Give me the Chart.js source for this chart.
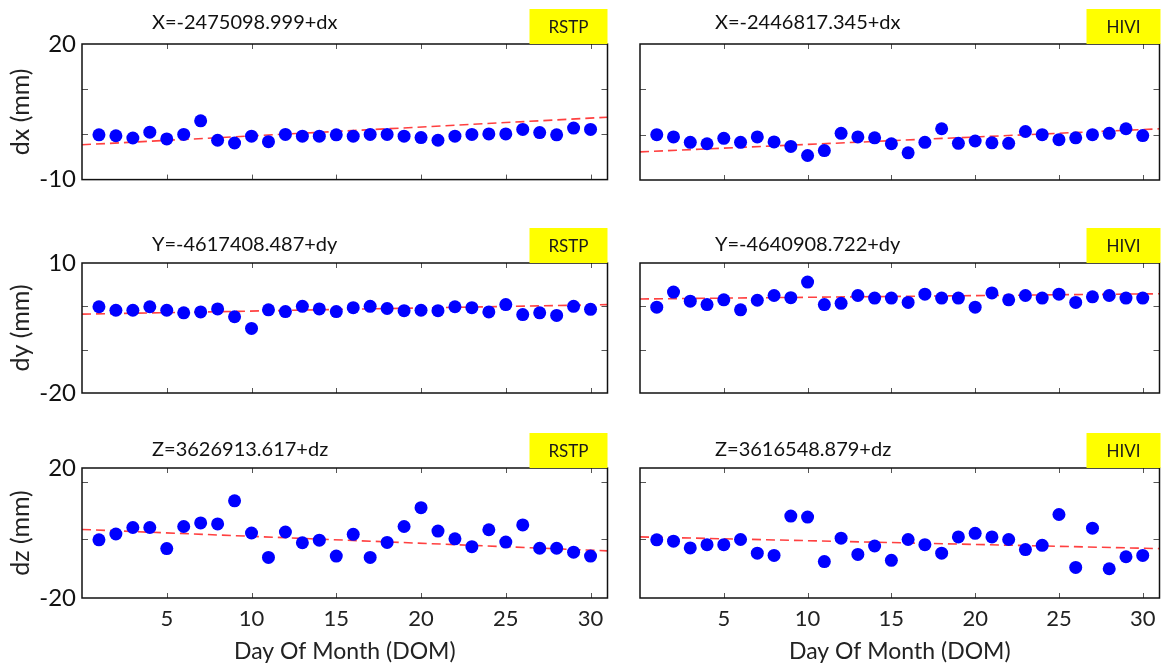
<!DOCTYPE html>
<html><head><meta charset="utf-8">
<script src="https://cdn.jsdelivr.net/npm/chart.js@4.4.0/dist/chart.umd.min.js"></script>
<style>
body{margin:0;background:#fff;}
#wrap{position:relative;width:1166px;height:667px;overflow:hidden;background:#fff;}
canvas{position:absolute;}
</style></head><body><div id="wrap"></div>
<script>
// ---------------- data ----------------
const days = [1,2,3,4,5,6,7,8,9,10,11,12,13,14,15,16,17,18,19,20,21,22,23,24,25,26,27,28,29,30];
const xTickValues = [5,10,15,20,25,30];
const trendX = [0,31];

const rstpDx = [-0.1,-0.3,-0.8,0.5,-1.0,0.0,3.0,-1.3,-1.9,-0.4,-1.6,0.0,-0.4,-0.4,-0.1,-0.4,0.0,0.0,-0.4,-0.7,-1.3,-0.4,0.0,0.1,0.1,1.1,0.4,-0.1,1.4,1.1];
const hiviDx = [0.0,-0.5,-1.7,-2.0,-0.8,-1.7,-0.5,-1.6,-2.6,-4.6,-3.5,0.3,-0.5,-0.7,-2.0,-4.0,-1.7,1.3,-1.9,-1.4,-1.8,-1.9,0.7,0.0,-1.1,-0.7,0.0,0.3,1.3,-0.2];
const rstpDy = [-0.1,-0.9,-0.9,-0.1,-0.9,-1.5,-1.3,-0.6,-2.4,-5.1,-0.8,-1.2,0.0,-0.6,-1.2,-0.3,0.0,-0.5,-1.0,-0.9,-1.0,-0.1,-0.3,-1.3,0.4,-1.9,-1.5,-2.1,0.0,-0.7];
const hiviDy = [-0.2,3.3,1.2,0.4,1.5,-0.8,1.4,2.5,2.0,5.6,0.4,0.7,2.5,1.9,1.9,0.9,2.8,1.9,1.9,-0.2,3.1,1.5,2.5,1.9,2.8,0.9,2.2,2.5,1.9,1.9];
const rstpDz = [-2.1,-0.3,1.7,1.7,-4.8,2.0,3.1,2.8,9.9,0.0,-7.5,0.3,-3.0,-2.2,-7.1,-0.4,-7.5,-2.9,2.0,7.8,0.6,-1.8,-4.2,1.0,-2.8,2.5,-4.7,-4.7,-5.9,-7.1];
const hiviDz = [-2.1,-2.5,-4.6,-3.6,-3.6,-2.0,-6.2,-6.9,5.2,4.9,-8.8,-1.6,-6.6,-4.0,-8.4,-2.0,-3.6,-6.2,-1.2,-0.1,-1.2,-2.0,-5.1,-3.8,5.7,-10.6,1.5,-11.0,-7.3,-6.9];

const rstpDxTrend = [-2.3,3.8];
const hiviDxTrend = [-3.8,1.3];
const rstpDyTrend = [-1.8,0.4];
const hiviDyTrend = [1.7,2.9];
const rstpDzTrend = [1.1,-5.5];
const hiviDzTrend = [-1.2,-4.8];

const dxRange = [-10,20];
const dyRange = [-20,10];
const dzRange = [-20,20];
const dxTickMarks = [0,10];
const dyTickMarks = [-10,0];
const dzTickMarks = [15.6,-1.7];

const titles = {
  rstpX:'X=-2475098.999+dx', hiviX:'X=-2446817.345+dx',
  rstpY:'Y=-4617408.487+dy', hiviY:'Y=-4640908.722+dy',
  rstpZ:'Z=3626913.617+dz',  hiviZ:'Z=3616548.879+dz'
};
const yAxisTitles = ['dx (mm)','dy (mm)','dz (mm)'];
const xAxisTitle = 'Day Of Month (DOM)';

// ---------------- drawing ----------------
const FONT = 'Lato, "Open Sans", sans-serif';
const wrap = document.getElementById('wrap');

const framePlugin = {
  id:'frame',
  afterDatasetsDraw(chart, args, o){
    const {ctx, chartArea:a, scales} = chart;
    ctx.save();
    ctx.strokeStyle = '#555'; ctx.lineWidth = 1;
    const L=(x1,y1,x2,y2)=>{ctx.beginPath();ctx.moveTo(x1,y1);ctx.lineTo(x2,y2);ctx.stroke();};
    for(const v of o.xMarks){const p=Math.round(scales.x.getPixelForValue(v))+0.5;L(p,a.top,p,a.top+5);L(p,a.bottom,p,a.bottom-5);}
    for(const v of o.yMarks){const p=Math.round(scales.y.getPixelForValue(v))+0.5;L(a.left,p,a.left+6,p);L(a.right,p,a.right-6,p);}
    ctx.strokeStyle = '#111'; ctx.lineWidth = 1.5;
    ctx.strokeRect(a.left, a.top, a.right-a.left, a.bottom-a.top);
    ctx.restore();
  },
  afterDraw(chart, args, o){
    const {ctx, chartArea:a} = chart;
    ctx.save();
    ctx.fillStyle = '#ffff00';
    const bx = a.right + o.badgeDx - o.badgeW;
    ctx.fillRect(bx, a.top - o.badgeH, o.badgeW, o.badgeH);
    ctx.fillStyle = '#1a1a1a';
    ctx.font = '17px ' + FONT;
    ctx.textAlign='center'; ctx.textBaseline='middle';
    ctx.fillText(o.badge, bx + o.badgeW/2, a.top - o.badgeH/2 + 1);
    ctx.fillStyle = '#111';
    ctx.font = '20px ' + FONT;
    ctx.textAlign='left';
    ctx.fillText(o.title, a.left + o.titleDx, a.top + o.titleDy);
    ctx.restore();
  }
};

function makePanel(p){
  const c = document.createElement('canvas');
  c.width = p.w; c.height = p.h;
  c.style.left = p.left+'px'; c.style.top = p.top+'px';
  c.style.width = p.w+'px'; c.style.height = p.h+'px';
  wrap.appendChild(c);
  const pts = days.map((d,i)=>({x:d,y:p.values[i]}));
  const tr = trendX.map((d,i)=>({x:d,y:p.trend[i]}));
  new Chart(c, {
    type:'scatter',
    data:{datasets:[
      {type:'scatter', data:pts, backgroundColor:'#0000ff', borderWidth:0, pointRadius:6.5, pointHoverRadius:6.5, order:1},
      {type:'line', data:tr, borderColor:'rgba(255,30,30,0.85)', borderWidth:1.6, borderDash:[9,5], pointRadius:0, fill:false, order:2}
    ]},
    options:{
      responsive:false, animation:false, devicePixelRatio:1,
      layout:{padding:{top:p.padTop, right:p.padRight, left:0, bottom:0}},
      plugins:{legend:{display:false}, tooltip:{enabled:false},
        frame:{xMarks:xTickValues, yMarks:p.yMarks, badge:p.badge, badgeW:p.badgeW, badgeH:35, badgeDx:p.badgeDx,
               title:p.title, titleDx:p.titleDx, titleDy:p.titleDy}},
      scales:{
        x:{type:'linear', min:0, max:31,
           grid:{display:false, drawTicks:false}, border:{display:false},
           afterBuildTicks:s=>{s.ticks = xTickValues.map(v=>({value:v}));},
           afterFit:s=>{s.height = p.xH;},
           ticks:{display:p.xLabels, padding:8, color:'#222', font:{family:FONT,size:22}},
           title:{display:p.xLabels, text:xAxisTitle, color:'#222', font:{family:FONT,size:23}, padding:{top:4,bottom:2}}
        },
        y:{type:'linear', min:p.range[0], max:p.range[1],
           grid:{display:false, drawTicks:false}, border:{display:false},
           afterBuildTicks:s=>{s.ticks = [{value:p.range[0]},{value:p.range[1]}];},
           afterFit:s=>{s.width = p.yW;},
           ticks:{display:p.yLabels, padding:6, color:'#111', font:{family:FONT,size:24}},
           title:{display:p.yLabels, text:p.yTitle, color:'#222', font:{family:FONT,size:25}, padding:{top:6,bottom:0}}
        }
      }
    },
    plugins:[framePlugin]
  });
}

const cols = [
  {left:0, w:614, yW:82, padRight:4, yLabels:true, badgeW:78, badgeDx:0, titleDx:70, badge:'RSTP'},
  {left:620, w:546, yW:20, padRight:1, yLabels:false, badgeW:74, badgeDx:1, titleDx:75, badge:'HIVI'}
];
const rows = [
  {top:0, h:200, padTop:44, xH:20, xLabels:false, titleDy:-21, range:dxRange, yMarks:dxTickMarks, yTitle:yAxisTitles[0],
   vals:[rstpDx,hiviDx], trends:[rstpDxTrend,hiviDxTrend], titles:[titles.rstpX,titles.hiviX]},
  {top:215, h:200, padTop:48, xH:22, xLabels:false, titleDy:-18, range:dyRange, yMarks:dyTickMarks, yTitle:yAxisTitles[1],
   vals:[rstpDy,hiviDy], trends:[rstpDyTrend,hiviDyTrend], titles:[titles.rstpY,titles.hiviY]},
  {top:420, h:247, padTop:48, xH:69, xLabels:true, titleDy:-18, range:dzRange, yMarks:dzTickMarks, yTitle:yAxisTitles[2],
   vals:[rstpDz,hiviDz], trends:[rstpDzTrend,hiviDzTrend], titles:[titles.rstpZ,titles.hiviZ]}
];
rows.forEach(r=>cols.forEach((c,ci)=>{
  makePanel({left:c.left, w:c.w, yW:c.yW, padRight:c.padRight, yLabels:c.yLabels, badgeW:c.badgeW, badgeDx:c.badgeDx,
    titleDx:c.titleDx, badge:c.badge, top:r.top, h:r.h, padTop:r.padTop, xH:r.xH, xLabels:r.xLabels, titleDy:r.titleDy,
    range:r.range, yMarks:r.yMarks, yTitle:r.yTitle, values:r.vals[ci], trend:r.trends[ci], title:r.titles[ci]});
}));
</script></body></html>
